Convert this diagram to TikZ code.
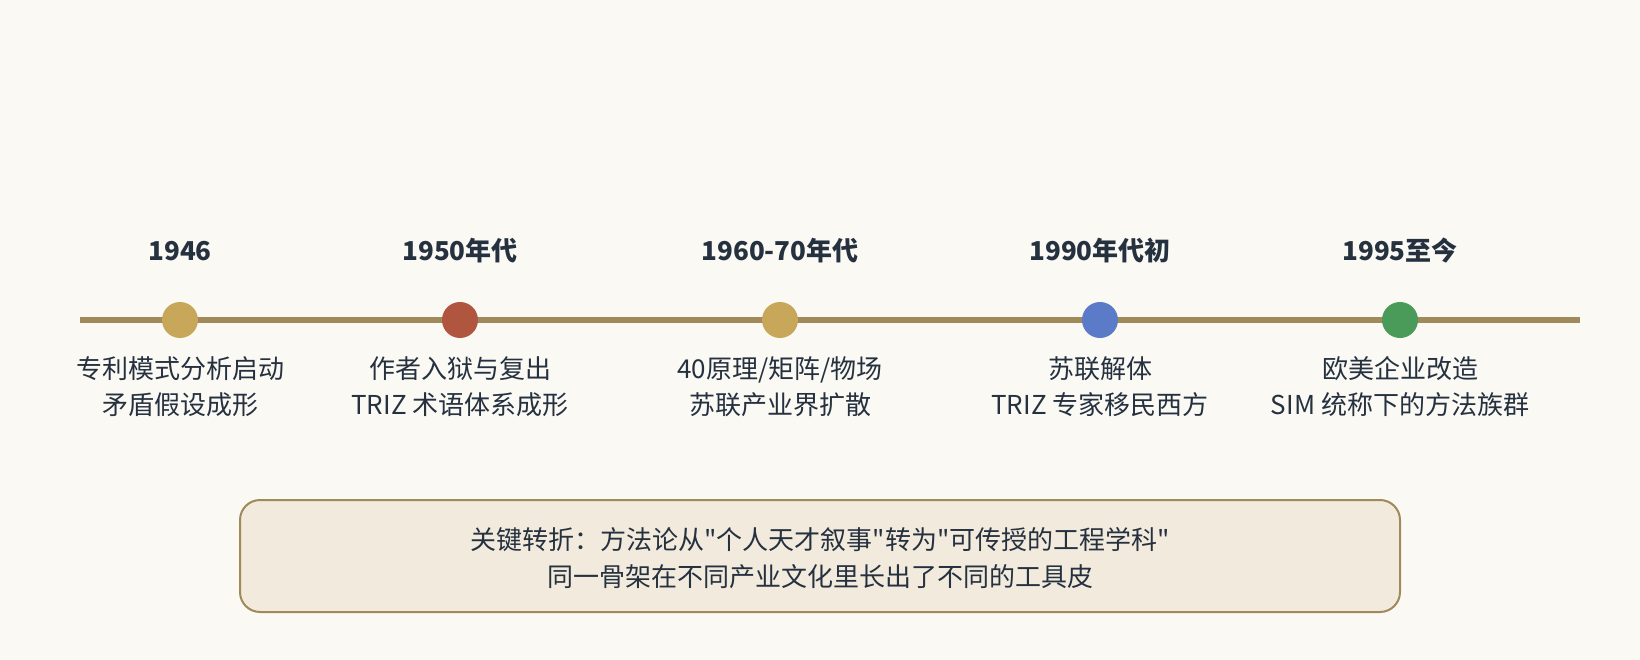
\documentclass[tikz,border=0pt]{standalone}
\usepackage{fontspec}
\setmainfont{Noto Sans CJK SC}
\newfontfamily\plaincjk{Noto Sans CJK SC}
\definecolor{bg}{HTML}{FAF9F4}
\definecolor{axis}{HTML}{A08A5A}
\definecolor{gold}{HTML}{C8A75A}
\definecolor{rust}{HTML}{B0553E}
\definecolor{blue}{HTML}{5B7BC9}
\definecolor{green}{HTML}{4A9A5A}
\definecolor{ink}{HTML}{263140}
\definecolor{boxfill}{HTML}{F2EBDD}
\tikzset{
  dot/.style={circle, inner sep=0pt, minimum size=36pt, draw=none},
  year/.style={font=\fontsize{26}{30}\selectfont\bfseries, text=ink, anchor=center},
  desc/.style={font=\fontsize{26}{36}\selectfont, text=ink, align=center, anchor=north},
  note/.style={rounded corners=20pt, draw=axis, line width=2pt, fill=boxfill},
  notetext/.style={font=\plaincjk\fontsize{26}{37}\selectfont, text=ink, align=center}
}
\begin{document}
\begin{tikzpicture}[x=1pt,y=-1pt]
\useasboundingbox (0,0) rectangle (1640,660);
\fill[bg] (0,0) rectangle (1640,660);
\coordinate (L) at (80,320);
\coordinate (R) at (1580,320);
\draw[axis, line width=6pt] (L) -- (R);
\node[dot, fill=gold] (d1) at (180,320) {};
\node[dot, fill=rust] (d2) at (460,320) {};
\node[dot, fill=gold] (d3) at (780,320) {};
\node[dot, fill=blue] (d4) at (1100,320) {};
\node[dot, fill=green] (d5) at (1400,320) {};
\node[year] (y1) at (180,251) {1946};
\node[year] (y2) at (460,251) {1950年代};
\node[year] (y3) at (780,251) {1960-70年代};
\node[year] (y4) at (1100,251) {1990年代初};
\node[year] (y5) at (1400,251) {1995至今};
\node[desc] (t1) at (180,353) {专利模式分析启动\\矛盾假设成形};
\node[desc] (t2) at (460,353) {作者入狱与复出\\TRIZ 术语体系成形};
\node[desc] (t3) at (780,353) {40原理/矩阵/物场\\苏联产业界扩散};
\node[desc] (t4) at (1100,353) {苏联解体\\TRIZ 专家移民西方};
\node[desc] (t5) at (1400,353) {欧美企业改造\\SIM 统称下的方法族群};
\draw[note] (240,500) rectangle (1400,612);
\node[notetext] (n) at (820,558) {关键转折：方法论从"个人天才叙事"转为"可传授的工程学科"\\同一骨架在不同产业文化里长出了不同的工具皮};
\end{tikzpicture}
\end{document}
